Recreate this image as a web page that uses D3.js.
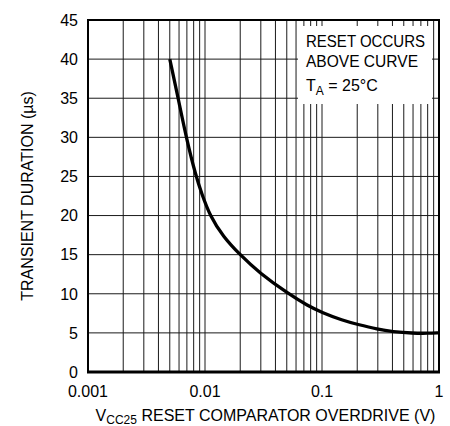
<!DOCTYPE html>
<html>
<head>
<meta charset="utf-8">
<script src="https://cdn.jsdelivr.net/npm/d3@7"></script>
<style>
  html, body { margin: 0; padding: 0; background: #fff; }
  svg { display: block; font-family: "Liberation Sans", Arial, sans-serif; }
</style>
</head>
<body>
<div id="chart"></div>
<script>
// Curve (overdrive in V, duration in µs)
const overdrive = [0.005, 0.0059, 0.0069, 0.00837, 0.00938, 0.011, 0.0143, 0.0199, 0.029, 0.0515, 0.075, 0.1, 0.15, 0.2, 0.3, 0.4, 0.6, 0.8, 1.0];
const duration = [40, 35, 30, 25, 22.8, 20, 17.3, 15, 12.7, 10, 8.5, 7.6, 6.6, 6.1, 5.45, 5.15, 4.95, 4.95, 5.0];

const xTicks = [0.001, 0.01, 0.1, 1];
const xTickLabels = ["0.001", "0.01", "0.1", "1"];
const yTicks = [0, 5, 10, 15, 20, 25, 30, 35, 40, 45];

const width = 450;
const height = 426;
const margin = { top: 20, right: 11, bottom: 54, left: 88 };

const svg = d3
  .select("#chart")
  .append("svg")
  .attr("width", width)
  .attr("height", height);

const x = d3
  .scaleLog()
  .domain([0.001, 1])
  .range([margin.left, width - margin.right]);

const y = d3
  .scaleLinear()
  .domain([0, 45])
  .range([height - margin.bottom, margin.top]);

// minor log grid: 1..9 per decade
const xGrid = [];
[0.001, 0.01, 0.1].forEach((dec) => {
  for (let k = 1; k <= 9; k++) xGrid.push(dec * k);
});
xGrid.push(1);

const grid = svg.append("g").attr("class", "grid");

grid
  .selectAll(".vgrid")
  .data(xGrid)
  .enter()
  .append("line")
  .attr("x1", (d) => x(d))
  .attr("x2", (d) => x(d))
  .attr("y1", y(0))
  .attr("y2", y(45))
  .attr("stroke", "#1a1a1a")
  .attr("stroke-width", 1);

grid
  .selectAll(".hgrid")
  .data(yTicks)
  .enter()
  .append("line")
  .attr("x1", x(0.001))
  .attr("x2", x(1))
  .attr("y1", (d) => y(d))
  .attr("y2", (d) => y(d))
  .attr("stroke", "#1a1a1a")
  .attr("stroke-width", 1);

// frame
svg
  .append("rect")
  .attr("x", x(0.001))
  .attr("y", y(45))
  .attr("width", x(1) - x(0.001))
  .attr("height", y(0) - y(45))
  .attr("fill", "none")
  .attr("stroke", "#000")
  .attr("stroke-width", 2);

svg
  .append("line")
  .attr("x1", x(0.001) - 1)
  .attr("x2", x(1) + 1)
  .attr("y1", y(0))
  .attr("y2", y(0))
  .attr("stroke", "#000")
  .attr("stroke-width", 3);

// note box (white knock-out over grid)
const note = svg.append("g").attr("class", "note");
note
  .append("rect")
  .attr("x", 298)
  .attr("y", 26)
  .attr("width", 134)
  .attr("height", 78)
  .attr("fill", "#fff");

const noteText = note
  .append("g")
  .attr("font-size", "16px")
  .attr("fill", "#000");
noteText
  .append("text")
  .attr("x", 306)
  .attr("y", 47)
  .attr("textLength", 119)
  .attr("lengthAdjust", "spacingAndGlyphs")
  .text("RESET OCCURS");
noteText
  .append("text")
  .attr("x", 306)
  .attr("y", 67)
  .attr("textLength", 112)
  .attr("lengthAdjust", "spacingAndGlyphs")
  .text("ABOVE CURVE");
const ta = noteText.append("text").attr("x", 306).attr("y", 91);
ta.append("tspan").text("T");
ta.append("tspan").attr("font-size", "12px").attr("dy", 4).text("A");
ta.append("tspan").attr("dy", -4).text(" = 25°C");

// curve (B-spline smooths out small reading errors)
const pts = overdrive.map((v, i) => [x(v), y(duration[i])]);
svg
  .append("path")
  .attr("d", d3.line().curve(d3.curveBasis)(pts))
  .attr("fill", "none")
  .attr("stroke", "#000")
  .attr("stroke-width", 3.3)
  .attr("stroke-linecap", "butt");

// y tick labels
svg
  .selectAll(".ylab")
  .data(yTicks)
  .enter()
  .append("text")
  .attr("x", 78)
  .attr("y", (d) => y(d))
  .attr("dy", "0.36em")
  .attr("text-anchor", "end")
  .attr("font-size", "16px")
  .text((d) => d);

// x tick labels
svg
  .selectAll(".xlab")
  .data(xTicks)
  .enter()
  .append("text")
  .attr("x", (d) => x(d))
  .attr("y", 397)
  .attr("text-anchor", "middle")
  .attr("font-size", "16px")
  .text((d, i) => xTickLabels[i]);

// axis titles
svg
  .append("text")
  .attr("transform", `translate(33,${(y(0) + y(45)) / 2}) rotate(-90)`)
  .attr("text-anchor", "middle")
  .attr("font-size", "16px")
  .text("TRANSIENT DURATION (µs)");

const xt = svg
  .append("text")
  .attr("x", (x(0.001) + x(1)) / 2 + 2)
  .attr("y", 421)
  .attr("text-anchor", "middle")
  .attr("font-size", "16px");
xt.append("tspan").text("V");
xt.append("tspan").attr("font-size", "12px").attr("dy", 3).text("CC25");
xt.append("tspan").attr("dy", -3).text(" RESET COMPARATOR OVERDRIVE (V)");
</script>
</body>
</html>
